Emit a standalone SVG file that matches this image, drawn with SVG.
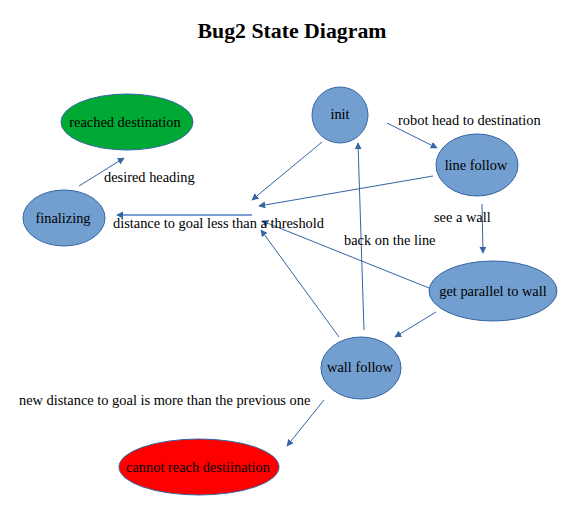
<svg xmlns="http://www.w3.org/2000/svg" width="572" height="509" viewBox="0 0 572 509">
  <style>
    .state { fill: #729fcf; stroke: #3465a4; stroke-width: 1; }
    .done { fill: #00a933; stroke: #3465a4; stroke-width: 1; }
    .fail { fill: #ff0000; stroke: #3465a4; stroke-width: 1; }
    .lbl { font-family: "Liberation Serif", "Times New Roman", serif; font-size: 14.4px; fill: #000; }
    .mid { text-anchor: middle; }
    .edge { stroke: #3465a4; stroke-width: 1; fill: none; marker-end: url(#arrow); }
    .title { font-family: "Liberation Serif", "Times New Roman", serif; font-size: 21.8px; font-weight: bold; text-anchor: middle; }
  </style>
  <defs>
    <marker id="arrow" viewBox="0 0 10 10" refX="9" refY="5" markerWidth="7" markerHeight="7" markerUnits="userSpaceOnUse" orient="auto">
      <path d="M0,0 L10,5 L0,10 z" fill="#3465a4"/>
    </marker>
  </defs>

  <rect width="572" height="509" fill="#ffffff"/>
  <text class="title" x="292" y="38">Bug2 State Diagram</text>

  <g id="connectors">
    <line class="edge" x1="387" y1="123" x2="437" y2="148"/>
    <line class="edge" x1="482" y1="204" x2="483" y2="253"/>
    <line class="edge" x1="436" y1="312" x2="395" y2="337"/>
    <line class="edge" x1="364" y1="330" x2="358" y2="143"/>
    <line class="edge" x1="324" y1="400" x2="287" y2="446"/>
    <line class="edge" x1="79" y1="186" x2="124" y2="158"/>
    <line class="edge" x1="322" y1="142" x2="252" y2="200"/>
    <line class="edge" x1="433" y1="176" x2="259" y2="206"/>
    <line class="edge" x1="429" y1="288" x2="262" y2="221"/>
    <line class="edge" x1="339" y1="337" x2="261" y2="230"/>
    <line x1="252" y1="215" x2="122" y2="215" stroke="#7a9fd4" stroke-width="2"/>
    <path d="M116,215 L123,211.5 L123,218.5 z" fill="#3465a4"/>
  </g>

  <g id="edge-labels">
    <text class="lbl" x="398" y="125">robot head to destination</text>
    <text class="lbl" x="104" y="182">desired heading</text>
    <text class="lbl" x="113" y="228">distance to goal less than a threshold</text>
    <text class="lbl" x="434" y="222">see a wall</text>
    <text class="lbl" x="344" y="245">back on the line</text>
    <text class="lbl" x="19" y="405">new distance to goal is more than the previous one</text>
  </g>

  <g id="reached-destination">
    <ellipse class="done" cx="127" cy="122" rx="66" ry="28"/>
    <text class="lbl mid" x="125" y="127">reached destination</text>
  </g>
  <g id="finalizing">
    <ellipse class="state" cx="64" cy="218" rx="41" ry="28"/>
    <text class="lbl mid" x="63" y="223">finalizing</text>
  </g>
  <g id="init">
    <ellipse class="state" cx="340" cy="115" rx="28" ry="28"/>
    <text class="lbl mid" x="340" y="119">init</text>
  </g>
  <g id="line-follow">
    <ellipse class="state" cx="477" cy="165" rx="41" ry="31"/>
    <text class="lbl mid" x="476" y="170">line follow</text>
  </g>
  <g id="get-parallel-to-wall">
    <ellipse class="state" cx="493" cy="291" rx="64" ry="30"/>
    <text class="lbl mid" x="493" y="296">get parallel to wall</text>
  </g>
  <g id="wall-follow">
    <ellipse class="state" cx="361" cy="368" rx="40" ry="31"/>
    <text class="lbl mid" x="360" y="372">wall follow</text>
  </g>
  <g id="cannot-reach-destination">
    <ellipse class="fail" cx="199" cy="467" rx="80" ry="28"/>
    <text class="lbl mid" x="198" y="472">cannot reach destiination</text>
  </g>
</svg>
